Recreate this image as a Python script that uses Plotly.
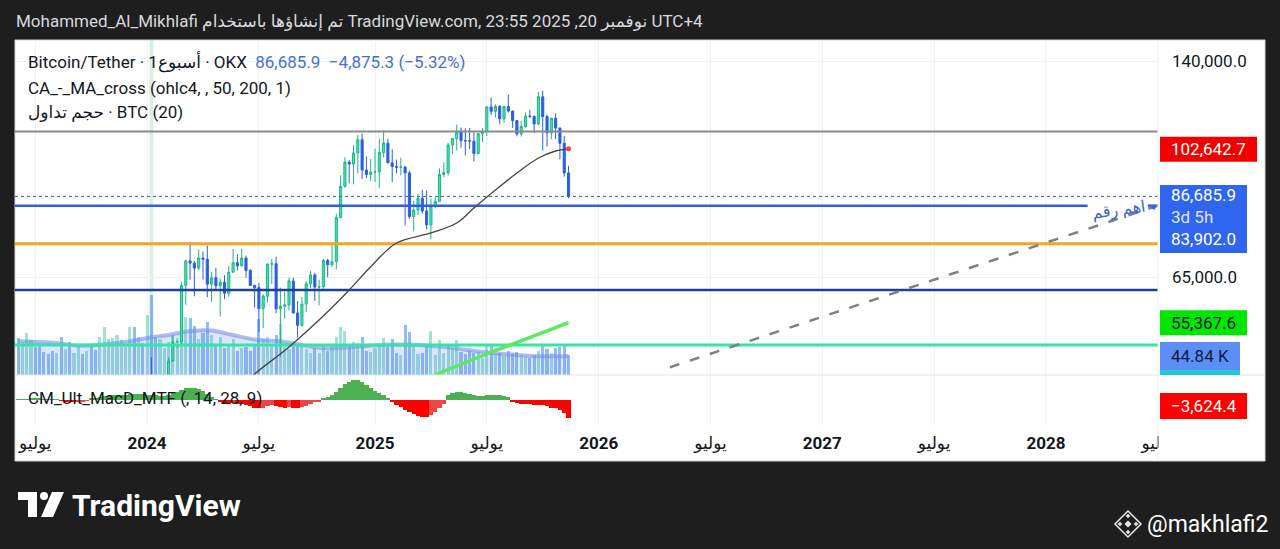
import math
import pandas as pd
import plotly.graph_objects as go

# ---------------- data ----------------
weeks = pd.date_range("2023-06-05", periods=129, freq="7D")

btc_open = [27100, 25850, 26350, 30450, 30600, 30300, 30250, 29900, 29300, 29050,
            29400, 26000, 26100, 25850, 25900, 26550, 26250, 27950, 27900, 27150,
            29950, 34500, 35000, 37050, 37400, 37450, 39950, 43750, 41900, 43000,
            42250, 43950, 41750, 39900, 42000, 42600, 48300, 51700, 51750, 63150,
            68950, 68400, 67200, 69650, 69350, 63450, 64950, 63100, 63900, 61450,
            66250, 68500, 67750, 69650, 66650, 63200, 62700, 58200, 60800, 68150,
            68250, 58150, 58700, 58950, 64200, 57300, 54850, 59150, 63550, 65600,
            62850, 62900, 69050, 68000, 68750, 80400, 89850, 97900, 97250, 101150,
            106050, 95200, 93700, 94500, 94550, 101300, 104750, 97700, 96450, 96150,
            96250, 94250, 80700, 82600, 86100, 82350, 78350, 83750, 85200, 93750,
            94300, 104100, 106450, 109000, 105700, 105600, 105500, 100950, 108350, 109200,
            119100, 117300, 119400, 114200, 119300, 117400, 113500, 108250, 111150, 115300,
            115250, 112150, 123500, 115150, 108650, 114450, 110500, 104700, 94250]
btc_high = [27400, 26800, 31400, 31300, 31500, 31800, 30400, 29950, 29550, 30250,
            29700, 26800, 28150, 26450, 27450, 27500, 28050, 28600, 27950, 30100,
            35200, 35950, 38000, 37950, 38450, 40250, 44700, 43800, 44400, 43800,
            45900, 49000, 43550, 42850, 43900, 48950, 52800, 52400, 64000, 69200,
            73800, 68950, 71800, 71300, 72800, 66300, 67300, 64750, 65500, 67700,
            71950, 70600, 71950, 70200, 66950, 63350, 63800, 61300, 68350, 69400,
            70000, 62700, 61800, 65000, 64950, 59800, 60650, 64150, 66500, 66000,
            64500, 69400, 69500, 73600, 81500, 93450, 99600, 98700, 104000, 107800,
            108350, 99950, 99000, 102700, 106400, 109600, 106400, 102500, 98800, 99500,
            96500, 95000, 85300, 87450, 88800, 88500, 86100, 86500, 95750, 97900,
            104900, 106700, 111950, 110700, 110400, 110600, 108900, 108500, 110550, 119500,
            123200, 120250, 119800, 119400, 124500, 117650, 113550, 113400, 116800, 117900,
            115450, 125700, 126200, 115950, 114500, 116400, 110750, 107500, 96650]
btc_low = [25350, 24800, 26250, 29500, 29700, 29900, 29500, 29100, 28600, 28700,
           25200, 25800, 25400, 24900, 24950, 26000, 26000, 27200, 26550, 26950,
           29700, 34050, 34500, 34800, 35650, 36850, 39950, 40200, 40550, 41300,
           40750, 41500, 38550, 38500, 41900, 42250, 48150, 50550, 50900, 59000,
           64500, 60800, 66750, 64500, 60600, 59600, 62400, 56550, 60200, 60700,
           66050, 66600, 67600, 64950, 63100, 58400, 53500, 54300, 59500, 63500,
           57200, 49000, 56150, 57850, 57200, 52550, 54600, 57500, 62600, 59800,
           58900, 62450, 65050, 67500, 66850, 80200, 89400, 90800, 90500, 94150,
           92250, 92500, 91550, 91200, 89300, 99500, 97500, 91200, 94100, 93400,
           78200, 80000, 76600, 81150, 81600, 77100, 74500, 83100, 85100, 92800,
           93400, 100700, 102100, 103100, 100350, 102600, 98200, 100850, 105100, 107500,
           115700, 114700, 112000, 112650, 116800, 110600, 107300, 107250, 110600, 114400,
           108600, 111600, 102000, 103500, 106300, 106300, 98900, 93000, 86100]
btc_close = [25850, 26350, 30450, 30600, 30300, 30250, 29900, 29300, 29050, 29400,
             26000, 26100, 25850, 25900, 26550, 26250, 27950, 27900, 27150, 29950,
             34500, 35000, 37050, 37400, 37450, 39950, 43750, 41900, 43000, 42250,
             43950, 41750, 39900, 42000, 42600, 48300, 51700, 51750, 63150, 68950,
             68400, 67200, 69650, 69350, 63450, 64950, 63100, 63900, 61450, 66250,
             68500, 67750, 69650, 66650, 63200, 62700, 58200, 60800, 68150, 68250,
             58150, 58700, 58950, 64200, 57300, 54850, 59150, 63550, 65600, 62850,
             62900, 69050, 68000, 68750, 80400, 89850, 97900, 97250, 101150, 106050,
             95200, 93700, 94500, 94550, 101300, 104750, 97700, 96450, 96150, 96250,
             94250, 80700, 82600, 86100, 82350, 78350, 83750, 85200, 93750, 94300,
             104100, 106450, 109000, 105700, 105600, 105500, 100950, 108350, 109200, 119100,
             117300, 119400, 114200, 119300, 117400, 113500, 108250, 111150, 115300, 115250,
             112150, 123500, 115150, 108650, 114450, 110500, 104700, 94250, 86685.9]
volume_k = [83, 72, 95, 78, 62, 70, 52, 48, 55, 50,
            85, 58, 75, 50, 62, 47, 55, 68, 56, 85,
            108, 82, 83, 90, 78, 70, 108, 108, 85, 72,
            135, 180, 85, 82, 60, 75, 90, 65, 140, 130,
            128, 110, 80, 95, 120, 90, 65, 85, 60, 70,
            80, 55, 60, 62, 55, 70, 125, 80, 85, 65,
            90, 115, 62, 58, 70, 65, 68, 58, 50, 60,
            50, 70, 55, 68, 86, 108, 98, 70, 75, 72,
            86, 55, 52, 60, 70, 83, 62, 80, 50, 45,
            113, 97, 70, 48, 50, 65, 99, 45, 78, 50,
            65, 60, 79, 52, 48, 55, 50, 52, 38, 65,
            70, 48, 50, 42, 55, 48, 52, 45, 40, 38,
            45, 55, 67, 58, 50, 60, 62, 66, 44.84]
macd_hist = [150, 120, 150, 200, 220, 200, 150, 100, 50, 20,
             -100, -200, -300, -350, -300, -200, -100, 200, 300, 500,
             700, 800, 900, 950, 1000, 1000, 1100, 1150, 1150, 1100,
             1050, 1000, 900, 800, 850, 1000, 1300, 1600, 2000, 2300,
             2400, 2300, 2100, 1700, 1100, 500, 150, -300, -700, -700,
             -600, -700, -800, -900, -1200, -1500, -1600, -1500, -1200, -1000,
             -1100, -1400, -1500, -1400, -1500, -1600, -1400, -1100, -700, -400,
             -200, 300, 600, 1000, 1600, 2400, 3100, 3500, 3900, 3900,
             3500, 2900, 2300, 1700, 1300, 900, 300, -400, -900, -1300,
             -1900, -2400, -2800, -3100, -3300, -3300, -3000, -2400, -1500, -700,
             900, 1400, 1600, 1500, 1300, 1100, 900, 800, 700, 900,
             1000, 1000, 900, 700, 500, -400, -600, -700, -800, -800,
             -900, -1000, -1000, -1200, -1500, -1600, -2000, -2600, -3624.4]

vol_ma_dates = ["2023-06-05", "2023-08-07", "2023-09-11", "2023-10-16", "2023-12-04",
                "2024-01-08", "2024-02-05", "2024-03-11", "2024-04-15", "2024-05-20",
                "2024-06-24", "2024-08-05", "2024-09-16", "2024-10-21", "2024-12-02",
                "2025-01-20", "2025-03-10", "2025-04-21", "2025-06-02", "2025-07-14",
                "2025-08-25", "2025-10-06", "2025-11-17"]
vol_ma_k = [76, 72, 66, 68, 76, 85, 90, 99, 100, 90, 80, 76, 66, 60, 63,
            68, 68, 64, 57, 50, 45, 42, 43]

ma50_dates = ["2024-05-27", "2024-06-24", "2024-08-19", "2024-10-21", "2024-11-25",
              "2024-12-30", "2025-02-10", "2025-04-07", "2025-05-19", "2025-06-16",
              "2025-07-21", "2025-08-25", "2025-09-29", "2025-10-27", "2025-11-17"]
ma50_values = [43500, 46130, 50780, 57560, 62180, 67540, 73470, 76130, 78880, 83200,
               88690, 94200, 99370, 101870, 102642.7]
ma200_dates = ["2025-03-17", "2025-04-21", "2025-07-14", "2025-09-15", "2025-11-17"]
ma200_values = [44500, 46300, 49840, 52500, 55367.6]

level_prices = [109200, 83902.0, 73250, 62170, 51140]
trend_dates = ["2026-05-01", "2028-07-03 12:00"]
trend_prices = [47250, 83920]

x_tick_dates = ["2023-07-03", "2024-01-01", "2024-07-01", "2025-01-06", "2025-07-07",
                "2026-01-05", "2026-07-06", "2027-01-04", "2027-07-05", "2028-01-03",
                "2028-07-03"]
x_tick_text = ["يوليو", "<b>2024</b>", "يوليو", "<b>2025</b>", "يوليو", "<b>2026</b>",
               "يوليو", "<b>2027</b>", "يوليو", "<b>2028</b>", "يوليو"]
price_ticks = [140000, 65000]
price_tick_text = ["140,000.0", "65,000.0"]

last_price = 86685.9
price_change = -4875.3
price_change_pct = -5.32
vol_last_k = 44.84
macd_last = -3624.4
countdown = "3d 5h"

# ---------------- layout helpers ----------------
W, H = 1280, 549
L, R, T, B = 15, 1158, 40, 425
MAIN_BOTTOM = 375
FONT = "Roboto, 'DejaVu Sans', 'Noto Sans', sans-serif"
DARK = "#131722"
GRID = "#eff1f4"
X_RANGE = ["2023-05-31", "2028-07-03 12:00"]


def px(x):
    return (x - L) / (R - L)


def py(y):
    return (B - y) / (B - T)


d_main = py(MAIN_BOTTOM)
p_top = 140000 * math.exp((61.5 - T) / 281.5)
p_bot = 140000 * math.exp(-(MAIN_BOTTOM - 61.5) / 281.5)
LOG_LO, LOG_HI = math.log10(p_bot), math.log10(p_top)
PX_PER_PAPER = B - T


def price_paper(v):
    return d_main + (math.log10(v) - LOG_LO) / (LOG_HI - LOG_LO) * (1 - d_main)


fig = go.Figure()

# volume (base axis of the main pane)
vol_colors = ["rgba(80,200,190,0.55)" if c >= o else "rgba(70,145,240,0.6)"
              for o, c in zip(btc_open, btc_close)]
fig.add_trace(go.Bar(x=weeks, y=volume_k, marker=dict(color=vol_colors, line=dict(width=0)),
                     width=5 * 86400000, xaxis="x2", yaxis="y"))
fig.add_trace(go.Scatter(x=vol_ma_dates, y=vol_ma_k, mode="lines",
                         line=dict(color="rgba(120,145,235,0.6)", width=4, shape="spline"),
                         fill="tozeroy", fillcolor="rgba(100,135,235,0.22)",
                         xaxis="x2", yaxis="y"))

# horizontal levels
level_colors = ["#8a8a8a", "#2e5fe8", "#f5a524", "#1f3f9e", "#2fe8a4"]
level_widths = [2, 2.5, 3, 2.5, 3]
for i, (p, c, w) in enumerate(zip(level_prices, level_colors, level_widths)):
    if i == 1:
        xs = [X_RANGE[0], "2028-03-11", None, "2028-06-17", X_RANGE[1]]
        ys = [p, p, None, p, p]
    else:
        xs = X_RANGE
        ys = [p, p]
    fig.add_trace(go.Scatter(x=xs, y=ys, mode="lines", line=dict(color=c, width=w),
                             xaxis="x2", yaxis="y3", connectgaps=False))

# last price dotted line
fig.add_trace(go.Scatter(x=X_RANGE, y=[last_price, last_price], mode="lines",
                         line=dict(color="#3b5fc8", width=1, dash="dot"),
                         xaxis="x2", yaxis="y3"))

# candles
fig.add_trace(go.Candlestick(x=weeks, open=btc_open, high=btc_high, low=btc_low, close=btc_close,
                             increasing=dict(line=dict(color="#1fb584", width=1), fillcolor="#3fe6b0"),
                             decreasing=dict(line=dict(color="#2a5fe3", width=1), fillcolor="#2a5fe3"),
                             whiskerwidth=0, xaxis="x2", yaxis="y3"))

# moving averages
fig.add_trace(go.Scatter(x=ma50_dates, y=ma50_values, mode="lines",
                         line=dict(color="#444444", width=1.3, shape="spline"),
                         xaxis="x2", yaxis="y3"))
fig.add_trace(go.Scatter(x=[ma50_dates[-1]], y=[ma50_values[-1]], mode="markers",
                         marker=dict(color="#ff4040", size=5), xaxis="x2", yaxis="y3"))
fig.add_trace(go.Scatter(x=ma200_dates, y=ma200_values, mode="lines",
                         line=dict(color="#5ee85e", width=3.5),
                         xaxis="x2", yaxis="y3"))

# dashed trend line
fig.add_trace(go.Scatter(x=trend_dates, y=trend_prices, mode="lines",
                         line=dict(color="#808080", width=2.5, dash="10px,11px"),
                         xaxis="x2", yaxis="y3"))

# MACD histogram
macd_colors = []
for i, v in enumerate(macd_hist):
    prev = macd_hist[i - 1] if i > 0 else v
    if v >= 0:
        macd_colors.append("#4caf50")
    elif v > prev:
        macd_colors.append("#ef4545")
    else:
        macd_colors.append("#ff0000")
fig.add_trace(go.Bar(x=weeks, y=macd_hist, marker=dict(color=macd_colors, line=dict(width=0)),
                     width=7 * 86400000, xaxis="x", yaxis="y2"))

# ---------------- axes ----------------
fig.update_layout(
    width=W, height=H,
    margin=dict(l=L, r=W - R, t=T, b=H - B, pad=0),
    paper_bgcolor="#1e1e1e", plot_bgcolor="#ffffff",
    showlegend=False, hovermode=False, barmode="overlay", bargap=0,
    font=dict(family=FONT, size=17, color=DARK),
    xaxis=dict(domain=[0, 1], anchor="y2", type="date", range=X_RANGE,
               tickmode="array", tickvals=x_tick_dates, ticktext=x_tick_text,
               showgrid=True, gridcolor=GRID, gridwidth=1, zeroline=False, showline=False,
               ticks="", tickfont=dict(size=17, color=DARK, family=FONT),
               ticklabelstandoff=6, rangeslider=dict(visible=False), fixedrange=True),
    xaxis2=dict(domain=[0, 1], anchor="y", type="date", range=X_RANGE, matches="x",
                tickmode="array", tickvals=x_tick_dates, showticklabels=False,
                showgrid=True, gridcolor=GRID, zeroline=False, ticks="",
                rangeslider=dict(visible=False), fixedrange=True),
    yaxis=dict(domain=[d_main, 1], anchor="x2", range=[0, 754], visible=False, fixedrange=True),
    yaxis3=dict(overlaying="y", anchor="x2", side="right", type="log",
                range=[LOG_LO, LOG_HI],
                tickmode="array", tickvals=price_ticks, ticktext=price_tick_text,
                showgrid=True, gridcolor=GRID, zeroline=False, ticks="",
                tickfont=dict(size=17, color=DARK, family=FONT), ticklabelstandoff=13,
                fixedrange=True),
    yaxis2=dict(domain=[0, d_main], anchor="x", side="right", range=[-4900, 4900],
                showticklabels=False, showgrid=False, zeroline=False, fixedrange=True),
)

# ---------------- shapes ----------------
shapes = []


def rect(x0, y0, x1, y1, fill, layer="above", line=None):
    return dict(type="rect", xref="paper", yref="paper",
                x0=px(x0), x1=px(x1), y0=py(y1), y1=py(y0),
                fillcolor=fill, line=line or dict(width=0), layer=layer)


def hline(x0, x1, y, color, width=1, layer="above"):
    return dict(type="line", xref="paper", yref="paper", x0=px(x0), x1=px(x1),
                y0=py(y), y1=py(y), line=dict(color=color, width=width), layer=layer)


def path(points, fill, line_color=None, line_width=0, layer="above"):
    d = "M " + " L ".join(f"{px(a):.5f},{py(b):.5f}" for a, b in points) + " Z"
    return dict(type="path", xref="paper", yref="paper", path=d, fillcolor=fill,
                line=dict(color=line_color or fill, width=line_width), layer=layer)


def paper_box(center, x0, x1, up, down, color):
    return dict(type="rect", xref="paper", yref="paper",
                y0=center - down / PX_PER_PAPER, y1=center + up / PX_PER_PAPER,
                x0=px(x0), x1=px(x1), fillcolor=color, line=dict(width=0), layer="above")


shapes.append(rect(15, 40, 1265, 461, "#ffffff", layer="below",
                   line=dict(color="#d6d6d6", width=1)))
# highlighted week stripe
shapes.append(dict(type="rect", xref="x2", yref="paper", x0="2024-01-05", x1="2024-01-11",
                   y0=d_main, y1=1, fillcolor="rgba(185,225,200,0.55)", line=dict(width=0),
                   layer="below"))
# pane separator + price-scale separator
shapes.append(hline(15, 1265, MAIN_BOTTOM, "#e1e3ea", 1.2))
shapes.append(dict(type="line", xref="paper", yref="paper", x0=1, x1=1, y0=py(461), y1=1,
                   line=dict(color="#eceef2", width=1), layer="above"))
# hide the part of the last time label that runs under the price scale
shapes.append(rect(1159, 427, 1264, 460, "#ffffff"))

# price-scale value labels
shapes.append(paper_box(price_paper(ma50_values[-1]), 1160, 1257, 12, 13, "#f20000"))
shapes.append(paper_box(price_paper(last_price), 1160, 1247, 11.5, 56.5, "#2f66f0"))
shapes.append(paper_box(price_paper(ma200_values[-1]), 1160, 1247, 12.5, 12.5, "#00e600"))
shapes.append(dict(type="rect", xref="paper", yref="y", ysizemode="pixel", yanchor=vol_last_k,
                   y0=-15, y1=13, x0=px(1160), x1=px(1240), fillcolor="#5b8ff5",
                   line=dict(width=0), layer="above"))
shapes.append(rect(1160, 370, 1240, 375, "#26c6da"))
shapes.append(rect(1160, 393, 1247, 419, "#ff0000"))

# TradingView logo mark
shapes.append(path([(18, 492), (37, 492), (37, 517), (28, 517), (28, 500), (18, 500)], "#ffffff"))
shapes.append(dict(type="circle", xref="paper", yref="paper", x0=px(40), x1=px(48),
                   y0=py(500), y1=py(492), fillcolor="#ffffff", line=dict(width=0)))
shapes.append(path([(52, 492), (64, 492), (53, 517), (41, 517)], "#ffffff"))
# small diamond icon
cx, cy = 1128, 524
shapes.append(path([(cx, cy - 13), (cx + 13, cy), (cx, cy + 13), (cx - 13, cy)], "rgba(0,0,0,0)",
                   "#e8e8e8", 1.5))
for dx, dy, s in [(0, 0, 3.5), (0, -8, 2.3), (8, 0, 2.3), (0, 8, 2.3), (-8, 0, 2.3)]:
    shapes.append(path([(cx + dx, cy + dy - s), (cx + dx + s, cy + dy), (cx + dx, cy + dy + s),
                        (cx + dx - s, cy + dy)], "#e8e8e8"))

fig.update_layout(shapes=shapes)

# ---------------- annotations ----------------
ann = []


def text(x, y, s, size=17, color=DARK, anchor="left", **kw):
    ann.append(dict(xref="paper", yref="paper", x=px(x), y=py(y), text=s, showarrow=False,
                    xanchor=anchor, yanchor="middle", font=dict(family=FONT, size=size, color=color),
                    **kw))


def fmt(v):
    return f"{v:,.1f}".replace("-", "\u2212")


NB = "\u00a0"
text(14, 22, "Mohammed_Al_Mikhlafi تم إنشاؤها باستخدام TradingView.com, نوفمبر 20, 2025 23:55 UTC+4",
     size=17, color="#d8dade")
text(26, 62, f"Bitcoin/Tether · 1أسبوع · OKX{NB}{NB}<span style='color:#4670d8'>{fmt(last_price)}"
             f"{NB}{NB}{fmt(price_change)} ({price_change_pct:.2f}%)".replace("-", "\u2212") + "</span>")
text(26, 88, "CA_-_MA_cross (ohlc4, , 50, 200, 1)")
text(26, 113, "حجم تداول · BTC (20)")
text(26, 398, "CM_Ult_MacD_MTF (, 14, 28, 9)")
ann.append(dict(xref="paper", yref="paper", x=px(1119), y=py(210), text="اهم رقم", showarrow=False,
                xanchor="center", yanchor="middle",
                textangle=-8, font=dict(family=FONT, size=16, color="#3a66d0")))
text(1157, 206, "◂", size=10, color="#2e5fe8", anchor="right")


def box_text(center, s, color, yshift=0):
    ann.append(dict(xref="paper", yref="paper", x=px(1169), y=center, text=s, showarrow=False,
                    xanchor="left", yanchor="middle", yshift=yshift,
                    font=dict(family=FONT, size=17, color=color)))


box_text(price_paper(ma50_values[-1]), fmt(ma50_values[-1]), "#ffffff")
box_text(price_paper(last_price), fmt(last_price), "#ffffff", yshift=1)
box_text(price_paper(last_price), countdown, "rgba(255,255,255,0.85)", yshift=-21)
box_text(price_paper(last_price), fmt(level_prices[1]), "#ffffff", yshift=-43)
box_text(price_paper(ma200_values[-1]), fmt(ma200_values[-1]), DARK)
ann.append(dict(xref="paper", yref="y", x=px(1169), y=vol_last_k, text=f"{vol_last_k:.2f} K",
                showarrow=False, xanchor="left", yanchor="middle", yshift=-1,
                font=dict(family=FONT, size=17, color="#0d1b3d")))
text(1169, 406, fmt(macd_last), color="#ffffff")

text(70, 505, "<b>TradingView</b>", size=30, color="#ffffff")
text(1145, 524, "@makhlafi2", size=23, color="#ffffff")

fig.update_layout(annotations=ann)

fig.write_html("out.html", config={"displayModeBar": False},
               post_script="document.body.style.margin='0';")
